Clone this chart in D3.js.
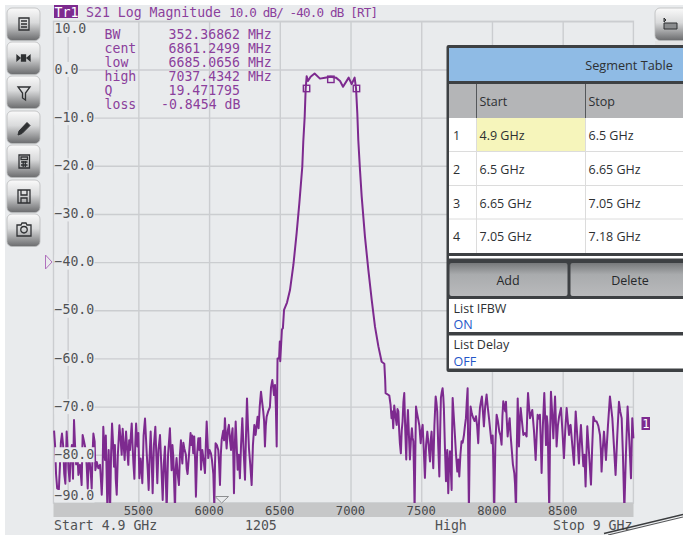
<!DOCTYPE html>
<html>
<head>
<meta charset="utf-8">
<script src="https://cdn.jsdelivr.net/npm/d3@7"></script>
<style>
  html, body { margin: 0; padding: 0; background: #fff; overflow: hidden; }
  text { font-family: "DejaVu Sans Mono", monospace; }
  .ui text, text.ui { font-family: "Open Sans", "Noto Sans", sans-serif; }
</style>
</head>
<body>
<div id="graph"></div>
<script>
// trace, frequency in MHz and level in dB
var noiseLowFreq = [4904,4911,4918,4926,4938,4946,4952,4960,4968,4976,4984,4993,5000,5006,5014,5022,5030,5038,5045,5052,5060,5068,5076,5087,5093,5099,5106,5114,5123,5129,5135,5142,5150,5158,5164,5170,5176,5182,5191,5196,5206,5217,5229,5235,5241,5247,5252,5258,5264,5270,5275,5281,5286,5290,5295,5300,5307,5314,5320,5328,5334,5340,5347,5355,5366,5375,5382,5389,5396,5403,5408,5413,5421,5429,5435,5441,5447,5453,5459,5465,5472,5478,5484,5493,5500,5507,5516,5522,5528,5537,5547,5553,5559,5566,5573,5580,5587,5594,5601,5610,5620,5627,5634,5642,5653,5662,5672,5680,5688,5694,5700,5710,5719];
var noiseLowDb = [-75,-78,-84,-87,-87.2,-82,-77.5,-75.6,-78,-84,-86,-75.2,-79,-83,-85.5,-80,-78,-85,-72.8,-77.8,-82,-79,-84.2,-82.1,-84,-86.3,-75.9,-77,-78.3,-80,-82.5,-87,-80,-82.1,-84,-87,-80,-75.6,-77.3,-83.2,-81.5,-82.8,-82.1,-85,-88.3,-84,-74.2,-78,-81.1,-76,-83,-91.5,-84,-79,-85,-91.5,-80,-73.5,-77,-82.5,-78,-85,-88.3,-80,-73.9,-77,-80,-74.6,-78,-81.1,-78,-75.2,-79,-82.1,-77,-79,-76,-73.5,-78,-81.8,-85,-78,-73.5,-78.3,-75.5,-84.9,-80.8,-83,-85.9,-76,-72.5,-76,-79.7,-83,-87.3,-80,-75.2,-81,-88,-78,-74.2,-80,-85.9,-79,-75.9,-82,-89.4,-82,-78.3,-85,-91.5,-80,-76.3];

var noiseMidFreq = [5723,5729,5735,5741,5747,5753,5759,5764,5770,5778,5787,5794,5801,5806,5811,5818,5825,5836,5842,5848,5858,5869,5875,5881,5888,5895,5901,5907,5915,5924,5931,5937,5943,5952,5961,5971,5977,5983,5989,5994,6003,6013,6020,6030,6037,6042,6046,6055,6065,6071,6077,6083,6089,6100,6106,6112,6118,6124,6132,6140,6148,6155,6160,6166,6171,6176,6182,6188,6195,6202,6210,6218,6226,6235,6244,6254,6261,6268,6275,6282,6291,6301,6310,6320,6329,6336,6343,6350,6358,6367,6375,6383,6389,6395,6401,6407,6418,6430,6438,6447,6453,6459,6466,6472,6478];
var noiseMidDb = [-74.5,-79,-83.2,-78,-80.4,-86,-91.5,-83,-80.7,-84,-86.3,-80,-77,-80,-81.8,-77.5,-78.7,-80,-83,-84,-80,-75.5,-78,-76,-79.7,-76.2,-81,-88.7,-80,-76.6,-79,-76.5,-83.1,-79,-81,-83.8,-78,-73.1,-77,-80.7,-79,-79.7,-81,-84,-91,-82,-77.6,-78,-79,-82,-86.3,-80,-76.9,-75,-77,-72.4,-76,-78.7,-75,-73.8,-77,-79,-76,-74.5,-80,-88,-78,-73.1,-78,-83.1,-80,-84.9,-78,-72.4,-79,-85.2,-76,-68.3,-74,-78.7,-82,-86.3,-78,-73.8,-75.9,-74,-72.1,-74.5,-70,-66.9,-69,-71,-73,-78.3,-74,-72.1,-71,-70.1,-66,-64.5,-66,-67.6,-65.5,-70,-78.3];

var passFreq = [6483,6484,6495,6500,6503,6515,6522,6530,6551,6572,6596,6619,6638,6659,6666,6676,6683,6690,6699,6718,6746,6784,6819,6860,6897,6926,6947,6987,7008,7029,7039,7048,7055,7067,7079,7102,7126,7150,7173,7197,7220,7239,7245];
var passDb = [-62.5,-60,-60,-56.5,-60.6,-54,-53.7,-49.9,-48.4,-45.8,-40.6,-34,-27.8,-20.2,-15,-9.8,-3.95,-1.4,-2.4,-1.5,-0.85,-1.9,-1.7,-1.5,-1.7,-2.4,-3.6,-1.7,-3.05,-1.7,-3.95,-9.1,-14.7,-20.9,-26.4,-34.7,-41.6,-47.9,-53.4,-57.5,-60.7,-61.1,-64.5];

var noiseHighFreq = [7248,7274,7283,7290,7296,7302,7309,7318,7326,7332,7338,7344,7349,7356,7362,7368,7374,7380,7387,7394,7400,7406,7413,7420,7427,7434,7439,7444,7449,7453,7458,7463,7471,7479,7487,7496,7503,7510,7518,7526,7534,7543,7552,7562,7567,7573,7579,7585,7593,7602,7607,7613,7620,7628,7634,7639,7645,7651,7656,7660,7667,7675,7680,7684,7688,7691,7697,7703,7709,7715,7718,7722,7730,7738,7746,7755,7762,7769,7777,7785,7793,7802,7809,7816,7822,7828,7832,7837,7843,7849,7858,7868,7877,7887,7895,7903,7909,7915,7922,7929,7936,7943,7952,7962,7970,7979,7988,7997,8005,8011,8016,8024,8033,8042,8052,8060,8068,8074,8080,8087,8094];
var noiseHighDb = [-67.2,-67.7,-69.6,-72.4,-71,-74.5,-69.8,-72,-73.8,-70.5,-71,-75,-77.6,-79.7,-75,-73.1,-69,-67.2,-75,-81,-74,-70.7,-76,-81,-77,-74.5,-76.5,-77.2,-84,-91.5,-80,-70,-71.5,-72.7,-74,-77.6,-75,-73.8,-79,-84.8,-78,-75.2,-78,-81.4,-77,-75.2,-79,-82.8,-74,-67.9,-69,-71,-78,-84.5,-75,-68.2,-67,-66.2,-68,-70.3,-78,-85.5,-81,-79,-84,-88,-82,-79.3,-83,-87.3,-76,-68.2,-72,-75.9,-80,-83.5,-81,-84.5,-80,-77.2,-77.5,-75.9,-74,-72.4,-69,-66.2,-80,-91.5,-78,-70,-71.5,-72.4,-73,-72,-74,-77.6,-73,-70.3,-69,-67.9,-71,-74.1,-70,-67.5,-70,-72.4,-75,-77.6,-76,-83,-91.5,-78,-71.7,-73,-75.2,-76,-77.9,-72,-68.9,-70,-71];

var noiseTopFreq = [8099,8105,8111,8118,8125,8132,8139,8148,8158,8163,8170,8176,8182,8187,8191,8197,8203,8212,8222,8233,8245,8250,8255,8262,8269,8277,8285,8297,8309,8316,8323,8331,8339,8345,8351,8360,8370,8376,8382,8388,8394,8400,8405,8411,8417,8425,8434,8440,8446,8451,8457,8466,8475,8488,8498,8509,8518,8528,8536,8545,8550,8556,8568,8580,8586,8592,8603,8615,8622,8629,8637,8646,8654,8662,8668,8674,8687,8700,8708,8717,8728,8740,8752,8764,8770,8775,8783,8792,8799,8806,8820,8834,8842,8851,8862,8874,8886,8898,8907,8917,8926,8936,8947,8959,8971,8983,8988,8992,9000];
var noiseTopDb = [-69,-73,-76.2,-74,-72.4,-76,-78.6,-82,-83.8,-86,-91.5,-78,-68.3,-74,-78.3,-73,-70.3,-73,-75.9,-75.5,-76.2,-71,-67.2,-70,-72.4,-71.5,-70.7,-75,-81.1,-76,-71.7,-72.5,-71.7,-77,-83.8,-74,-67.2,-72,-78,-72,-74,-84,-91.5,-76,-66.9,-71,-76.6,-72,-67.9,-72,-78.3,-74,-72,-70.3,-75,-80.7,-75,-70.3,-73,-75.9,-74,-73.8,-78,-82.1,-76,-71,-76,-81.8,-77,-73.8,-78,-82.4,-80,-86.6,-80,-74.1,-80,-86.2,-79,-72.1,-73,-73.1,-74,-75.9,-79,-83.5,-79,-75.2,-78,-81.1,-74,-67.9,-70,-72.4,-78,-84.2,-76,-69,-71,-72.4,-80,-91.5,-80,-70,-77,-84.9,-78,-72.4,-76.6];

var markerFreq = [6689, 6861, 7042];
var markerDb = [-3.95, -2.05, -3.95];

var xTicks = [5000, 5500, 6000, 6500, 7000, 7500, 8000, 8500];
var yTicks = [10, 0, -10, -20, -30, -40, -50, -60, -70, -80, -90];

var infoNames = ["BW", "cent", "low", "high", "Q", "loss"];
var infoValues = ["352.36862 MHz", "6861.2499 MHz", "6685.0656 MHz", "7037.4342 MHz", "19.471795", "-0.8454 dB"];

var segStart = ["4.9 GHz", "6.5 GHz", "6.65 GHz", "7.05 GHz"];
var segStop = ["6.5 GHz", "6.65 GHz", "7.05 GHz", "7.18 GHz"];

var width = 683;
var height = 535;
var purple = "#7d2a8f";
var textPurple = "#8b3f9c";

var svg = d3.select("#graph").append("svg")
  .attr("width", width)
  .attr("height", height)
  .style("display", "block");

var defs = svg.append("defs");
var btnGrad = defs.append("linearGradient").attr("id", "btn").attr("x2", 0).attr("y2", 1);
btnGrad.append("stop").attr("offset", "0").attr("stop-color", "#fafafa");
btnGrad.append("stop").attr("offset", "0.45").attr("stop-color", "#d9dadb");
btnGrad.append("stop").attr("offset", "1").attr("stop-color", "#6a6b6d");
var greyGrad = defs.append("linearGradient").attr("id", "greyBtn").attr("x2", 0).attr("y2", 1);
greyGrad.append("stop").attr("offset", "0").attr("stop-color", "#77797b");
greyGrad.append("stop").attr("offset", "0.35").attr("stop-color", "#a9abad");
greyGrad.append("stop").attr("offset", "1").attr("stop-color", "#b9babc");

// instrument background
svg.append("rect").attr("x", 5).attr("y", 5).attr("width", width - 5).attr("height", height - 5).attr("fill", "#e9ebed");

var x = d3.scaleLinear().domain([4900, 9000]).range([53.5, 633.4]);
var y = d3.scaleLinear().domain([10, -90]).range([21.3, 502.9]);

// grid comes from the axes, labels get restyled after
var gridColor = "#cbcdd0";
var xGrid = svg.append("g").attr("transform", "translate(0,502.9)")
  .call(d3.axisBottom(x).tickValues(xTicks).tickSize(-(502.9 - 21.3)).tickFormat(""));
xGrid.select(".domain").remove();
xGrid.selectAll("line").attr("stroke", gridColor).attr("stroke-width", 1.4);

var yGrid = svg.append("g").attr("transform", "translate(53.5,0)")
  .call(d3.axisLeft(y).tickValues(yTicks).tickSize(-(633.4 - 53.5)).tickFormat(""));
yGrid.select(".domain").remove();
yGrid.selectAll("line").attr("stroke", gridColor).attr("stroke-width", 1.4);

svg.append("rect")
  .attr("x", x.range()[0]).attr("y", y.range()[0])
  .attr("width", x.range()[1] - x.range()[0]).attr("height", y.range()[1] - y.range()[0])
  .attr("fill", "none").attr("stroke", gridColor).attr("stroke-width", 1.4);

// the trace
var freqs = noiseLowFreq.concat(noiseMidFreq, passFreq, noiseHighFreq, noiseTopFreq);
var levels = noiseLowDb.concat(noiseMidDb, passDb, noiseHighDb, noiseTopDb);
var line = d3.line()
  .x(function(d, i) { return x(freqs[i]); })
  .y(function(d) { return y(d); });

svg.append("path")
  .attr("d", line(levels))
  .attr("fill", "none")
  .attr("stroke", purple)
  .attr("stroke-width", 2)
  .attr("stroke-linejoin", "round");

svg.selectAll("rect.marker")
  .data(markerFreq)
  .enter().append("rect")
  .attr("class", "marker")
  .attr("x", function(d) { return x(d) - 3.2; })
  .attr("y", function(d, i) { return y(markerDb[i]) - 3.2; })
  .attr("width", 6.4).attr("height", 6.4)
  .attr("fill", "none").attr("stroke", purple).attr("stroke-width", 1.4);

// y labels sit on a background patch that hides grid and trace
var yLabels = svg.append("g").selectAll("g")
  .data(yTicks)
  .enter().append("g");
yLabels.append("rect")
  .attr("x", 54.5)
  .attr("y", function(d) { return d === 10 ? 22 : d === -90 ? 490 : y(d) - 7.5; })
  .attr("width", function(d) { return d >= 10 ? 32 : d === 0 ? 24 : 40; })
  .attr("height", function(d) { return d === -90 ? 12.5 : 15; })
  .attr("fill", "#e9ebed");
yLabels.append("text")
  .attr("x", 54.5)
  .attr("y", function(d) { return d === 10 ? 32.5 : d === -90 ? 500 : y(d) + 4.2; })
  .attr("font-size", 13.2)
  .attr("fill", "#505254")
  .text(function(d) { return d3.format(".1f")(d); });

// frequency bar
svg.append("rect").attr("x", 53.5).attr("y", 503).attr("width", 580).attr("height", 14).attr("fill", "#c6c7c8");
svg.append("g").selectAll("text")
  .data(xTicks.slice(1))
  .enter().append("text")
  .attr("x", function(d) { return x(d); })
  .attr("y", 514.5)
  .attr("text-anchor", "middle")
  .attr("font-size", 12.2)
  .attr("fill", "#46484a")
  .text(function(d) { return d; });

// stimulus pointer, reference pointer and channel flag
svg.append("path").attr("d", "M215,496.5L228.5,496.5L221.7,503Z").attr("fill", "#e9ebed").attr("stroke", "#8d8f91");
svg.append("path").attr("d", "M45.5,255L52,262L45.5,269Z").attr("fill", "#e9ebed").attr("stroke", "#b071bd");
svg.append("rect").attr("x", 641.5).attr("y", 417).attr("width", 8.5).attr("height", 13).attr("fill", purple);
svg.append("text").attr("x", 645.8).attr("y", 428).attr("text-anchor", "middle").attr("font-size", 12).attr("fill", "#fff").text("1");

// title
svg.append("rect").attr("x", 54).attr("y", 5).attr("width", 24).attr("height", 13).attr("fill", purple);
svg.append("text").attr("x", 54.5).attr("y", 16.5).attr("font-size", 13.2).attr("fill", "#fff").text("Tr1");
svg.append("text").attr("x", 86).attr("y", 16.5).attr("font-size", 13.2).attr("fill", textPurple).text("S21 Log Magnitude");
svg.append("text").attr("x", 229).attr("y", 16.5).attr("font-size", 12.6)
  .attr("textLength", 149).attr("lengthAdjust", "spacing")
  .attr("fill", textPurple).text("10.0 dB/ -40.0 dB [RT]");

// bandwidth readout
svg.append("g").selectAll("text")
  .data(infoNames)
  .enter().append("text")
  .attr("x", 104.5)
  .attr("y", function(d, i) { return 39 + i * 13.9; })
  .attr("font-size", 13.2)
  .attr("fill", textPurple)
  .text(function(d) { return d; });
svg.append("g").selectAll("text")
  .data(infoValues)
  .enter().append("text")
  .attr("x", function(d) { return d.charAt(0) === "-" ? 161 : 168.5; })
  .attr("y", function(d, i) { return 39 + i * 13.9; })
  .attr("font-size", 13.2)
  .attr("fill", textPurple)
  .text(function(d) { return d; });

// status line
var statusX = [54, 245, 435, 553];
var statusText = ["Start 4.9 GHz", "1205", "High", "Stop 9 GHz"];
svg.append("g").selectAll("text")
  .data(statusText)
  .enter().append("text")
  .attr("x", function(d, i) { return statusX[i]; })
  .attr("y", 530)
  .attr("font-size", 13.2)
  .attr("fill", "#505254")
  .text(function(d) { return d; });

// toolbar buttons on the left
var buttonY = [8, 42, 76, 111, 145, 180, 214];
var buttons = svg.append("g").selectAll("g")
  .data(buttonY)
  .enter().append("g")
  .attr("transform", function(d) { return "translate(7," + d + ")"; });
buttons.append("rect")
  .attr("width", 33).attr("height", 32.5).attr("rx", 5)
  .attr("fill", "url(#btn)")
  .attr("stroke", "#b9babb").attr("stroke-width", 0.8);

var iconPaths = [
  "M12,10H22V22H12ZM14,13H20M14,16H20M14,19H20",
  "M10,13.5L13,16L10,18.5ZM23,13.5L20,16L23,18.5ZM14.5,13H18.5V19H14.5ZM14.5,16H18.5",
  "M11,11H23L18.5,17V24L15.5,22V17Z",
  "M11,24L12,20L20,11.5L23,14.5L15,22.5Z",
  "M12,10H22.5V23H12ZM14,12H20.5V14.5H14ZM14,17H20.5M14,20H20.5M16.2,16V22M18.3,16V22",
  "M11,10H23V23H11ZM14,10V15H20V10M14,18H20V23H14Z",
  "M10,11H14L15,9H19L20,11H24V22H10ZM17,12.5A3.2,3.2 0 1 0 17,19A3.2,3.2 0 1 0 17,12.5Z"
];
buttons.append("path")
  .attr("d", function(d, i) { return iconPaths[i]; })
  .attr("fill", function(d, i) { return i === 1 || i === 3 ? "#2f3133" : "none"; })
  .attr("stroke", "#2f3133")
  .attr("stroke-width", function(d, i) { return i === 3 ? 1 : 1.3; });

// right hand button, mostly cut off by the window
var rightBtn = svg.append("g").attr("transform", "translate(655,8)");
rightBtn.append("rect").attr("width", 40).attr("height", 32.5).attr("rx", 5).attr("fill", "url(#btn)").attr("stroke", "#b9babb").attr("stroke-width", 0.8);
rightBtn.append("path").attr("d", "M9,10L11,12L9,14ZM9,15H22V21H9Z").attr("fill", "#8a8c8e").attr("stroke", "#2f3133").attr("stroke-width", 1);
svg.append("rect").attr("x", 655).attr("y", 41).attr("width", 28).attr("height", 5).attr("fill", "#e4e4e4");

// segment table panel
var panel = svg.append("g").attr("class", "ui");
panel.append("rect").attr("x", 446.5).attr("y", 45).attr("width", 240).attr("height", 327).attr("rx", 2).attr("fill", "#3d4043");
panel.append("rect").attr("x", 449).attr("y", 48).attr("width", 234).attr("height", 33).attr("fill", "#8fbbe5");
panel.append("text").attr("x", 629).attr("y", 70).attr("text-anchor", "middle").attr("font-size", 12.7).attr("fill", "#2d3033").text("Segment Table");
panel.append("rect").attr("x", 449).attr("y", 84).attr("width", 234).attr("height", 34).attr("fill", "#b4b5b7");
panel.append("text").attr("x", 479.5).attr("y", 106).attr("font-size", 12.5).attr("fill", "#2d3033").text("Start");
panel.append("text").attr("x", 588.5).attr("y", 106).attr("font-size", 12.5).attr("fill", "#2d3033").text("Stop");

var rowTop = [118, 152, 186, 219.5];
var rowBase = [140, 174, 207.5, 241];
panel.append("rect").attr("x", 449).attr("y", 118).attr("width", 234).attr("height", 135).attr("fill", "#fff");
panel.append("rect").attr("x", 476.5).attr("y", 118).attr("width", 109).attr("height", 33.5).attr("fill", "#f6f5bb");
panel.selectAll("line.row")
  .data(rowTop.slice(1))
  .enter().append("line")
  .attr("class", "row")
  .attr("x1", 449).attr("x2", 683)
  .attr("y1", function(d) { return d - 0.5; }).attr("y2", function(d) { return d - 0.5; })
  .attr("stroke", "#dcdcdc").attr("stroke-width", 1);

var colX = [476.5, 585.5];
panel.selectAll("line.col")
  .data(colX)
  .enter().append("line")
  .attr("class", "col")
  .attr("x1", function(d) { return d; }).attr("x2", function(d) { return d; })
  .attr("y1", 84).attr("y2", 118)
  .attr("stroke", "#55585b");
panel.selectAll("line.cell")
  .data(colX)
  .enter().append("line")
  .attr("class", "cell")
  .attr("x1", function(d) { return d; }).attr("x2", function(d) { return d; })
  .attr("y1", 118).attr("y2", 253)
  .attr("stroke", "#dcdcdc");

panel.selectAll("text.num")
  .data(segStart)
  .enter().append("text")
  .attr("class", "num")
  .attr("x", 453)
  .attr("y", function(d, i) { return rowBase[i]; })
  .attr("font-size", 12.5).attr("fill", "#2d3033")
  .text(function(d, i) { return i + 1; });
panel.selectAll("text.start")
  .data(segStart)
  .enter().append("text")
  .attr("class", "start")
  .attr("x", 479.5)
  .attr("y", function(d, i) { return rowBase[i]; })
  .attr("font-size", 12.5).attr("fill", "#2d3033")
  .text(function(d) { return d; });
panel.selectAll("text.stop")
  .data(segStop)
  .enter().append("text")
  .attr("class", "stop")
  .attr("x", 588.5)
  .attr("y", function(d, i) { return rowBase[i]; })
  .attr("font-size", 12.5).attr("fill", "#2d3033")
  .text(function(d) { return d; });

panel.append("rect").attr("x", 449).attr("y", 256).attr("width", 234).attr("height", 2.5).attr("fill", "#fff");

// Add and Delete
panel.append("rect").attr("x", 449.5).attr("y", 263).attr("width", 118).attr("height", 33).attr("rx", 2).attr("fill", "url(#greyBtn)");
panel.append("rect").attr("x", 570.5).attr("y", 263).attr("width", 116).attr("height", 33).attr("rx", 2).attr("fill", "url(#greyBtn)");
panel.append("text").attr("x", 508).attr("y", 285).attr("text-anchor", "middle").attr("font-size", 12.5).attr("fill", "#26282a").text("Add");
panel.append("text").attr("x", 630).attr("y", 285).attr("text-anchor", "middle").attr("font-size", 12.5).attr("fill", "#26282a").text("Delete");

// list settings
var listNames = ["List IFBW", "List Delay"];
var listStates = ["ON", "OFF"];
var listTop = [299, 335.5];
panel.selectAll("rect.list")
  .data(listTop)
  .enter().append("rect")
  .attr("class", "list")
  .attr("x", 449).attr("y", function(d) { return d; })
  .attr("width", 234).attr("height", 33)
  .attr("fill", "#fff");
panel.selectAll("text.listName")
  .data(listNames)
  .enter().append("text")
  .attr("class", "listName")
  .attr("x", 453.5)
  .attr("y", function(d, i) { return listTop[i] + 13.5; })
  .attr("font-size", 12.5).attr("fill", "#2d3033")
  .text(function(d) { return d; });
panel.selectAll("text.listState")
  .data(listStates)
  .enter().append("text")
  .attr("class", "listState")
  .attr("x", 453.5)
  .attr("y", function(d, i) { return listTop[i] + 30; })
  .attr("font-size", 12.5).attr("fill", "#2456c8")
  .text(function(d) { return d; });

// corner of the instrument at the bottom right
svg.append("path").attr("d", "M683,516L606,535L683,535Z").attr("fill", "#fff");
svg.append("line").attr("x1", 683).attr("y1", 514.5).attr("x2", 604).attr("y2", 533.5).attr("stroke", "#3a3c3e").attr("stroke-width", 1.4);
svg.append("line").attr("x1", 683).attr("y1", 517).attr("x2", 608).attr("y2", 535).attr("stroke", "#55575a").attr("stroke-width", 1.2);
</script>
</body>
</html>
